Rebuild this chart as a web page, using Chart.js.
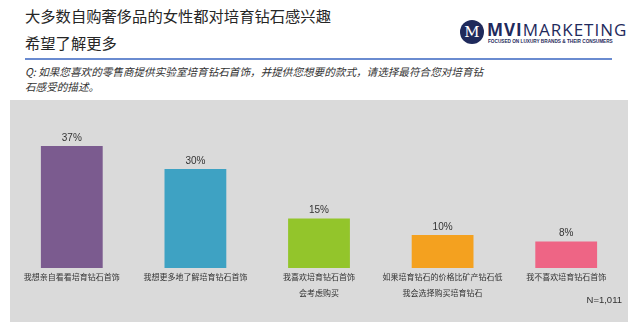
<!DOCTYPE html>
<html>
<head>
<meta charset="utf-8">
<script src="https://cdn.jsdelivr.net/npm/chart.js@4"></script>
<style>
  body { margin:0; width:640px; height:333px; background:#fff; position:relative; overflow:hidden;
         font-family:"Noto Sans CJK SC","Noto Sans",sans-serif; }
  .titulo { position:absolute; left:25px; font-size:15.3px; color:#262626; line-height:20px; }
  .linea { position:absolute; left:25px; top:58px; width:587px; height:2px; background:#6a8bd0; }
  .pregunta { position:absolute; left:25px; top:64px; font-size:10.6px; line-height:15px; color:#333; font-style:italic; }
  .logo-circulo { position:absolute; left:460px; top:20px; width:24px; height:24px; border-radius:50%;
         background:#1f2a5c; color:#fff; font-family:"DejaVu Serif",serif; font-size:15px; line-height:24px; text-align:center; }
  .logo-texto { position:absolute; left:487px; top:18px; font-family:"Open Sans",sans-serif; font-size:17px; color:#1f2a5c; letter-spacing:1px; }
  .logo-sub { position:absolute; left:488px; top:39px; font-family:"Liberation Sans",sans-serif; font-size:4.7px; font-weight:bold; color:#1f2a5c; white-space:nowrap; }
  .panel { position:absolute; left:10px; top:100px; width:618px; height:222px; background:#dadada; }
  .nota { position:absolute; right:18px; top:294px; font-family:"Liberation Sans",sans-serif; font-size:9.5px; color:#333; }
</style>
</head>
<body>
<div class="titulo" style="top:5px">大多数自购奢侈品的女性都对培育钻石感兴趣</div>
<div class="titulo" style="top:32px">希望了解更多</div>
<div class="logo-circulo">M</div>
<div class="logo-texto"><b>MVI</b>MARKETING</div>
<div class="logo-sub">FOCUSED ON LUXURY BRANDS &amp; THEIR CONSUMERS</div>
<div class="linea"></div>
<div class="pregunta">Q: 如果您喜欢的零售商提供实验室培育钻石首饰，并提供您想要的款式，请选择最符合您对培育钻<br>石感受的描述。</div>
<div class="panel"><canvas id="myChart" width="618" height="222"></canvas></div>
<div class="nota">N=1,011</div>
<script>
// datos
const categorias = [
    ["我想亲自看看培育钻石首饰"],
    ["我想更多地了解培育钻石首饰"],
    ["我喜欢培育钻石首饰", "会考虑购买"],
    ["如果培育钻石的价格比矿产钻石低", "我会选择购买培育钻石"],
    ["我不喜欢培育钻石首饰"]
]
const valores = [37, 30, 15, 10, 8]
const colores = ["#7b5b8f", "#3ea2c3", "#93c52b", "#f4a11f", "#ee6585"]

// etiquetas de valor encima de las barras
const etiquetasValor = {
    id: "etiquetasValor",
    afterDatasetsDraw(chart) {
        let ctx = chart.ctx
        ctx.save()
        ctx.font = "10px 'Liberation Sans', sans-serif"
        ctx.fillStyle = "#333"
        ctx.textAlign = "center"
        ctx.textBaseline = "middle"
        chart.getDatasetMeta(0).data.forEach((barra, i) => {
            ctx.fillText(valores[i] + "%", barra.x, barra.y - 8)
        })
        ctx.restore()
    }
}

let ctx = document.getElementById("myChart").getContext("2d")

let myChart = new Chart(ctx, {
    type: "bar",
    data: {
        labels: categorias,
        datasets: [{
            data: valores,
            backgroundColor: colores,
            categoryPercentage: 1,
            barPercentage: 0.5
        }]
    },
    options: {
        responsive: false,
        animation: false,
        devicePixelRatio: 1,
        layout: { padding: { top: 3, left: 0, right: 0, bottom: 0 } },
        plugins: { legend: { display: false }, tooltip: { enabled: false } },
        scales: {
            y: { display: false, min: 0, max: 50 },
            x: {
                grid: { display: false, drawTicks: false },
                border: { display: false },
                afterFit: (s) => { s.height = 54 },
                ticks: {
                    padding: 1,
                    color: "#333",
                    maxRotation: 0,
                    autoSkip: false,
                    font: { size: 8, family: "'Noto Sans CJK SC', sans-serif", lineHeight: 2 }
                }
            }
        }
    },
    plugins: [etiquetasValor]
})
</script>
</body>
</html>
